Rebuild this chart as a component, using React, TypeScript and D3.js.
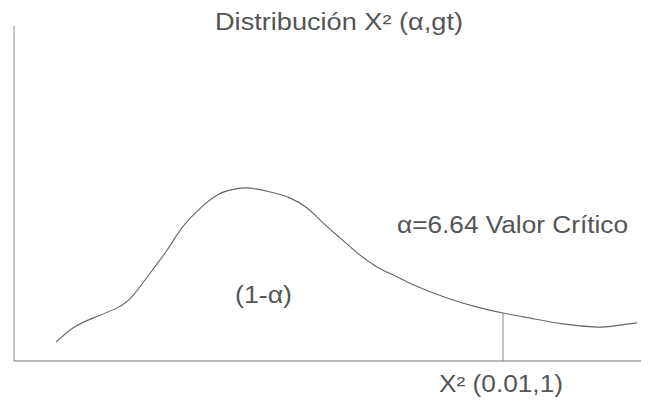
import React, { useEffect, useRef } from 'react';
import * as d3 from 'd3';

// curve: chi-square value vs relative density
const chiValues = [0.57, 0.8, 1.07, 1.4, 1.62, 1.85, 2.08, 2.29, 2.53, 2.76, 2.93, 3.16, 3.48, 3.75, 3.98, 4.2, 4.43, 4.66, 4.93, 5.2, 5.42, 5.88, 6.33, 6.64, 7.01, 7.45, 7.92, 8.13, 8.46];
const density = [0.059, 0.103, 0.134, 0.166, 0.206, 0.275, 0.347, 0.419, 0.478, 0.519, 0.534, 0.541, 0.528, 0.509, 0.478, 0.431, 0.384, 0.338, 0.294, 0.263, 0.238, 0.197, 0.166, 0.15, 0.134, 0.116, 0.106, 0.109, 0.119];
const criticalValue = 6.64;

const titleText = 'Distribución X² (α,gt)';
const criticalText = 'α=6.64 Valor Crítico';
const areaText = '(1-α)';
const axisText = 'X² (0.01,1)';

export default function App() {
  const ref = useRef<SVGSVGElement | null>(null);

  useEffect(() => {
    const width = 649;
    const height = 405;
    const margin = { top: 26, right: 8, bottom: 44, left: 14 };
    const font = '"Liberation Sans", Arial, Helvetica, sans-serif';
    const textColor = '#555';

    const svg = d3.select(ref.current);
    svg.selectAll('*').remove();

    const x = d3.scaleLinear().domain([0, 8.5]).range([margin.left, 640]);
    const y = d3.scaleLinear().domain([0, 1]).range([height - margin.bottom, 41]);
    const baseY = height - margin.bottom;

    // axes: plain lines, no ticks
    svg.append('line')
      .attr('x1', margin.left).attr('x2', margin.left)
      .attr('y1', margin.top).attr('y2', baseY)
      .attr('stroke', '#888').attr('stroke-width', 1);
    svg.append('line')
      .attr('x1', margin.left).attr('x2', width - margin.right)
      .attr('y1', baseY).attr('y2', baseY)
      .attr('stroke', '#777').attr('stroke-width', 1.2);

    const pts = chiValues.map((c, i) => [c, density[i]] as [number, number]);
    const line = d3.line<[number, number]>()
      .x((d) => x(d[0]))
      .y((d) => y(d[1]))
      .curve(d3.curveNatural);

    svg.append('path')
      .datum(pts)
      .attr('fill', 'none')
      .attr('stroke', '#666')
      .attr('stroke-width', 1.1)
      .attr('d', line);

    const critIdx = chiValues.indexOf(criticalValue);
    svg.append('line')
      .attr('x1', x(criticalValue)).attr('x2', x(criticalValue))
      .attr('y1', y(density[critIdx])).attr('y2', baseY)
      .attr('stroke', '#888').attr('stroke-width', 1);

    // scanned text is wider than the font, so stretch the glyphs to fit
    const addText = (t: string, tx: number, ty: number, len: number) =>
      svg.append('text')
        .attr('x', tx).attr('y', ty)
        .attr('font-family', font)
        .attr('font-size', 23)
        .attr('fill', textColor)
        .attr('textLength', len)
        .attr('lengthAdjust', 'spacingAndGlyphs')
        .text(t);

    addText(titleText, 215, 30, 248);
    addText(criticalText, 397, 233, 231);
    addText(areaText, 235, 303, 57);
    addText(axisText, 439, 392, 124);
  }, []);

  return (
    <svg
      ref={ref}
      width={649}
      height={405}
      style={{ position: 'absolute', left: 0, top: 0, background: '#fff' }}
    />
  );
}
